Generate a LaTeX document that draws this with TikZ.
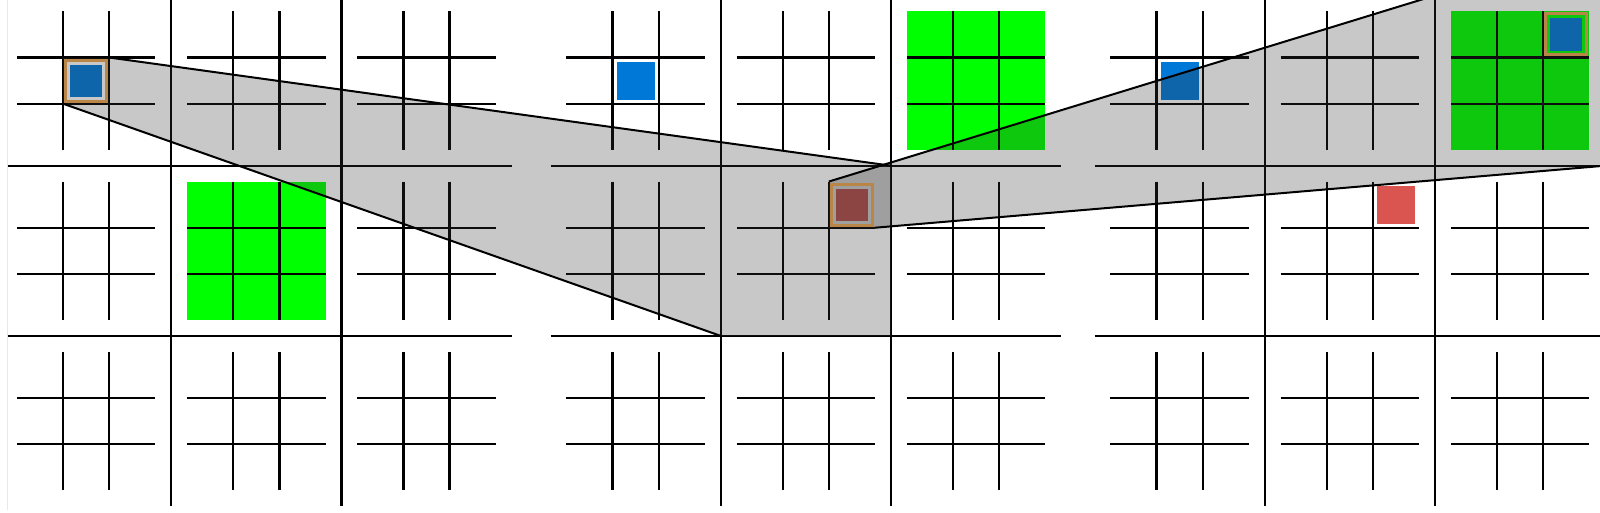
\documentclass[tikz,border=0pt]{standalone}
\usepackage{xcolor}
\definecolor{ovgray}{RGB}{52,52,52}
\definecolor{gwin}{RGB}{0,255,0}
\definecolor{pblue}{RGB}{0,120,215}
\definecolor{pred}{RGB}{219,85,80}
\definecolor{frameorange}{RGB}{186,134,72}
\definecolor{faintgray}{RGB}{232,232,232}
\tikzset{
  bigline/.style={line width=2.3pt, draw=black},
  smallline/.style={line width=2.3pt, draw=black},
  overlayfill/.style={fill=ovgray, fill opacity=0.27},
  tangent/.style={line width=2pt, draw=black},
  wonboard/.style={fill=gwin},
  markbox/.style={line width=3.1pt, draw=frameorange},
}
\newcommand\uttCell{170.2}
\newcommand\uttMarg{15.85}
\newcommand\uttSmall{46.17}
\newcommand\uttTop{-4.5}
% small cell corners: name, board left, i, j, a, c
\newcommand\uttsmallcell[6]{%
  \path ({#2+#3*\uttCell+\uttMarg+#5*\uttSmall},{\uttTop+#4*\uttCell+\uttMarg+#6*\uttSmall}) coordinate (#1nw)
        ({#2+#3*\uttCell+\uttMarg+(#5+1)*\uttSmall},{\uttTop+#4*\uttCell+\uttMarg+(#6+1)*\uttSmall}) coordinate (#1se);
  \path (#1nw -| #1se) coordinate (#1ne) (#1nw |- #1se) coordinate (#1sw);
}
% big cell corners: name, board left, i, j
\newcommand\uttbigcell[4]{%
  \path ({#2+#3*\uttCell},{\uttTop+#4*\uttCell}) coordinate (#1nw)
        ({#2+(#3+1)*\uttCell},{\uttTop+(#4+1)*\uttCell}) coordinate (#1se);
  \path (#1nw -| #1se) coordinate (#1ne) (#1nw |- #1se) coordinate (#1sw);
}
% small board area: name, board left, i, j
\newcommand\uttboardarea[4]{%
  \path ({#2+#3*\uttCell+\uttMarg},{\uttTop+#4*\uttCell+\uttMarg}) coordinate (#1nw)
        ({#2+#3*\uttCell+\uttMarg+3*\uttSmall},{\uttTop+#4*\uttCell+\uttMarg+3*\uttSmall}) coordinate (#1se);
}
\begin{document}
\begin{tikzpicture}[x=1pt,y=-1pt]
\useasboundingbox (0,0) rectangle (1600,513);
\clip (0,0) rectangle (1600,513);
\fill[white] (0,0) rectangle (1600,513);
\draw[faintgray, line width=1pt] (7.5,0) -- (7.5,510);

% coordinates
\uttsmallcell{sa}{1}{0}{0}{1}{1}
\uttsmallcell{sb}{550.5}{0}{0}{1}{1}
\uttsmallcell{sc}{1094.5}{0}{0}{1}{1}
\uttsmallcell{sd}{550.5}{1}{1}{2}{0}
\uttsmallcell{se}{1094.5}{1}{1}{2}{0}
\uttsmallcell{sf}{1094.5}{2}{0}{2}{0}
\uttbigcell{ta}{550.5}{1}{1}
\uttbigcell{tb}{1094.5}{2}{0}
\uttboardarea{ga}{1}{1}{1}
\uttboardarea{gb}{550.5}{2}{0}
\uttboardarea{gc}{1094.5}{2}{0}

% won small boards
\fill[wonboard] (ganw) rectangle (gase);
\fill[wonboard] (gbnw) rectangle (gbse);
\fill[wonboard] (gcnw) rectangle (gcse);

% plain moves
\fill[pblue] ([shift={(4,4)}]sbnw) rectangle ([shift={(-4,-4)}]sbse);
\fill[pblue] ([shift={(4,4)}]scnw) rectangle ([shift={(-4,-4)}]scse);
\fill[pred] ([shift={(4,4)}]senw) rectangle ([shift={(-4,-4)}]sese);
% marked moves (fill)
\fill[pblue] ([shift={(7,7)}]sanw) rectangle ([shift={(-7,-7)}]sase);
\fill[pred] ([shift={(7,7)}]sdnw) rectangle ([shift={(-7,-7)}]sdse);
\fill[pblue] ([shift={(7,7)}]sfnw) rectangle ([shift={(-7,-7)}]sfse);

% grids
\foreach \bx/\hs in {1/7.5, 550.5/550.5, 1094.5/1094.5} {
  \foreach \k in {1,2} {
    \draw[bigline] ({\bx+\k*\uttCell},\uttTop) -- ({\bx+\k*\uttCell},505.9);
    \draw[bigline] (\hs,{\uttTop+\k*\uttCell}) -- ({\bx+3*\uttCell},{\uttTop+\k*\uttCell});
  }
  \foreach \i in {0,1,2} {
    \foreach \j in {0,1,2} {
      \pgfmathsetmacro\sx{\bx+\i*\uttCell+\uttMarg}
      \pgfmathsetmacro\sy{\uttTop+\j*\uttCell+\uttMarg}
      \foreach \k in {1,2} {
        \draw[smallline] ({\sx+\k*\uttSmall},\sy) -- ({\sx+\k*\uttSmall},{\sy+3*\uttSmall});
        \draw[smallline] (\sx,{\sy+\k*\uttSmall}) -- ({\sx+3*\uttSmall},{\sy+\k*\uttSmall});
      }
    }
  }
}

% overlays
\fill[overlayfill] (sanw) -- (sane) -- (tane) -- (tase) -- (tasw) -- (sasw) -- cycle;
\fill[overlayfill] (sdnw) -- (tbnw) -- (tbne) -- (tbse) -- (sdse) -- (sdsw) -- cycle;
\draw[tangent] (sane) -- (tane);
\draw[tangent] (sasw) -- (tasw);
\draw[tangent] (sdnw) -- (tbnw);
\draw[tangent] (sdse) -- (tbse);

% marked frames
\draw[markbox] ([shift={(2.6,2.6)}]sanw) rectangle ([shift={(-2.6,-2.6)}]sase);
\draw[markbox] ([shift={(2.6,2.6)}]sdnw) rectangle ([shift={(-2.6,-2.6)}]sdse);
\draw[markbox] ([shift={(2.6,2.6)}]sfnw) rectangle ([shift={(-2.6,-2.6)}]sfse);
\end{tikzpicture}
\end{document}
